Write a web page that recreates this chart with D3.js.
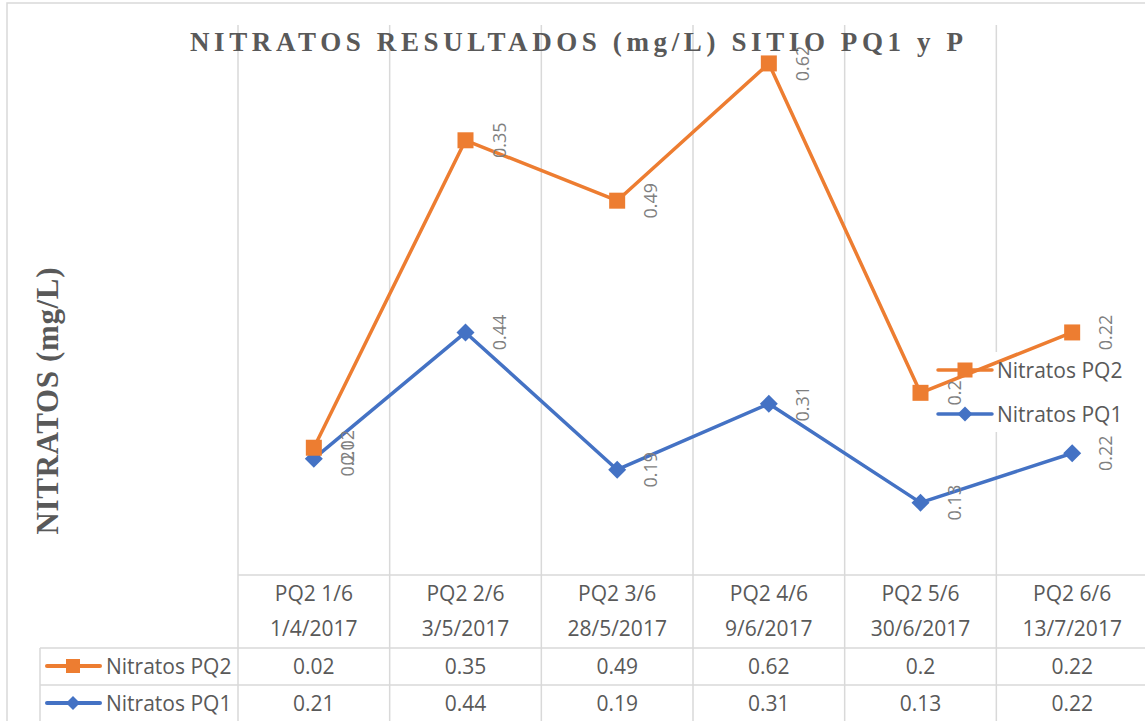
<!DOCTYPE html>
<html>
<head>
<meta charset="utf-8">
<script src="https://cdn.jsdelivr.net/npm/d3@7/dist/d3.min.js"></script>
<style>
  html, body { margin: 0; padding: 0; background: #fff; }
  svg { display: block; }
</style>
</head>
<body>
<svg id="chart" width="1145" height="721"></svg>
<script>
// Sampling points (table header, two lines each)
const categories = ["PQ2 1/6", "PQ2 2/6", "PQ2 3/6", "PQ2 4/6", "PQ2 5/6", "PQ2 6/6"];
const dates = ["1/4/2017", "3/5/2017", "28/5/2017", "9/6/2017", "30/6/2017", "13/7/2017"];

// Nitrate results (mg/L)
const seriesNames = ["Nitratos PQ2", "Nitratos PQ1"];
const pq2 = [0.02, 0.35, 0.49, 0.62, 0.2, 0.22];
const pq1 = [0.21, 0.44, 0.19, 0.31, 0.13, 0.22];

const titleText = "NITRATOS RESULTADOS (mg/L) SITIO PQ1 y P";
const yTitleText = "NITRATOS (mg/L)";

const ORANGE = "#ED7D31", BLUE = "#4472C4", GRID = "#d9d9d9", TXT = "#595959", LBL = "#7f7f7f";
const SANS = "'Open Sans', 'Noto Sans', sans-serif";
const SERIF = "'Liberation Serif', 'Times New Roman', serif";

const svg = d3.select("#chart");

// Stacked line chart: PQ1 at the bottom, PQ2 stacked on top of it
const rows = categories.map((c, i) => ({ cat: c, pq1: pq1[i], pq2: pq2[i] }));
const stacked = d3.stack().keys(["pq1", "pq2"])(rows);

const x = d3.scaleBand().domain(categories).range([238, 1148]);
const y = d3.scaleLinear().domain([0, 1]).range([574, 25]);
const cx = c => x(c) + x.bandwidth() / 2;

// Chart area border (top and left edges)
svg.append("path")
  .attr("d", "M7,721 V3 H1145")
  .attr("fill", "none").attr("stroke", GRID).attr("stroke-width", 1.5);

// Category gridlines, continuing down as table column borders
const edges = categories.map(c => x(c)).concat([x.range()[1]]);
svg.append("g").selectAll("line").data(edges).join("line")
  .attr("x1", d => d).attr("x2", d => d)
  .attr("y1", y(1)).attr("y2", 721)
  .attr("stroke", GRID).attr("stroke-width", 1.5);

// Data table borders
const tbl = svg.append("g").attr("stroke", GRID).attr("stroke-width", 1.5);
tbl.append("line").attr("x1", x.range()[0]).attr("x2", 1148).attr("y1", 575).attr("y2", 575);
tbl.append("line").attr("x1", 40).attr("x2", 1148).attr("y1", 648).attr("y2", 648);
tbl.append("line").attr("x1", 40).attr("x2", 1148).attr("y1", 685).attr("y2", 685);
tbl.append("line").attr("x1", 40).attr("x2", 40).attr("y1", 648).attr("y2", 721);

// Legend background (hides gridline behind it)
svg.append("rect").attr("x", 934).attr("y", 352).attr("width", 192).attr("height", 80).attr("fill", "#fff");

// Marker helpers
function drawMarker(g, kind, px, py, s, color) {
  if (kind === "square") {
    g.append("rect").attr("x", px - s / 2).attr("y", py - s / 2)
      .attr("width", s).attr("height", s).attr("fill", color);
  } else {
    const h = s / 2;
    g.append("path")
      .attr("d", `M${px},${py - h} L${px + h},${py} L${px},${py + h} L${px - h},${py} Z`)
      .attr("fill", color);
  }
}

const seriesDefs = [
  { layer: stacked[0], raw: pq1, color: BLUE, marker: "diamond", msize: 18 },
  { layer: stacked[1], raw: pq2, color: ORANGE, marker: "square", msize: 16 }
];

const line = d3.line().x(d => cx(d.data.cat)).y(d => y(d[1]));

// Series lines and markers
seriesDefs.forEach(s => {
  const g = svg.append("g");
  g.append("path").datum(s.layer)
    .attr("d", line).attr("fill", "none")
    .attr("stroke", s.color).attr("stroke-width", 3.5)
    .attr("stroke-linejoin", "round").attr("stroke-linecap", "round");
  s.layer.forEach(d => drawMarker(g, s.marker, cx(d.data.cat), y(d[1]), s.msize, s.color));
});

// Rotated data labels showing each series' own value
seriesDefs.forEach(s => {
  svg.append("g").selectAll("text").data(s.layer).join("text")
    .attr("transform", d => `translate(${cx(d.data.cat) + 40},${y(d[1])}) rotate(-90)`)
    .attr("text-anchor", "middle")
    .attr("font-family", SANS).attr("font-size", 18).attr("fill", LBL)
    .text((d, i) => String(s.raw[i]));
});

// Legend inside plot
const legendItems = [
  { name: seriesNames[0], color: ORANGE, marker: "square", ms: 15, y: 370 },
  { name: seriesNames[1], color: BLUE, marker: "diamond", ms: 15, y: 414 }
];
legendItems.forEach(it => {
  const g = svg.append("g");
  g.append("line").attr("x1", 938).attr("x2", 992).attr("y1", it.y).attr("y2", it.y)
    .attr("stroke", it.color).attr("stroke-width", 3.5).attr("stroke-linecap", "round");
  drawMarker(g, it.marker, 965, it.y, it.ms, it.color);
  g.append("text").attr("x", 997).attr("y", it.y).attr("dy", "0.36em")
    .attr("font-family", SANS).attr("font-size", 21).attr("fill", TXT).text(it.name);
});

// Table header: category and date
const hdr = svg.append("g").attr("font-family", SANS).attr("font-size", 21)
  .attr("fill", TXT).attr("text-anchor", "middle");
hdr.selectAll("text.cat").data(categories).join("text").attr("class", "cat")
  .attr("x", d => cx(d)).attr("y", 593).attr("dy", "0.36em").text(d => d);
hdr.selectAll("text.date").data(categories).join("text").attr("class", "date")
  .attr("x", d => cx(d)).attr("y", 628).attr("dy", "0.36em").text((d, i) => dates[i]);

// Table rows with legend keys
const tableRows = [
  { name: seriesNames[0], vals: pq2, color: ORANGE, marker: "square", ms: 14, y: 666 },
  { name: seriesNames[1], vals: pq1, color: BLUE, marker: "diamond", ms: 14, y: 703 }
];
tableRows.forEach(r => {
  const g = svg.append("g");
  g.append("line").attr("x1", 47).attr("x2", 100).attr("y1", r.y).attr("y2", r.y)
    .attr("stroke", r.color).attr("stroke-width", 4).attr("stroke-linecap", "round");
  drawMarker(g, r.marker, 73, r.y, r.ms, r.color);
  g.append("text").attr("x", 106).attr("y", r.y).attr("dy", "0.36em")
    .attr("font-family", SANS).attr("font-size", 21).attr("fill", TXT).text(r.name);
  g.selectAll("text.v").data(r.vals).join("text").attr("class", "v")
    .attr("x", (d, i) => cx(categories[i])).attr("y", r.y).attr("dy", "0.36em")
    .attr("text-anchor", "middle")
    .attr("font-family", SANS).attr("font-size", 21).attr("fill", TXT)
    .text(d => String(d));
});

// Chart title
svg.append("text")
  .attr("x", 190).attr("y", 51)
  .attr("textLength", 773).attr("lengthAdjust", "spacing")
  .attr("font-family", SERIF).attr("font-weight", "bold").attr("font-size", 27)
  .attr("fill", TXT).text(titleText);

// Vertical axis title
svg.append("text")
  .attr("transform", "translate(58,401) rotate(-90)")
  .attr("text-anchor", "middle")
  .attr("textLength", 267).attr("lengthAdjust", "spacing")
  .attr("font-family", SERIF).attr("font-weight", "bold").attr("font-size", 31)
  .attr("fill", TXT).text(yTitleText);
</script>
</body>
</html>
